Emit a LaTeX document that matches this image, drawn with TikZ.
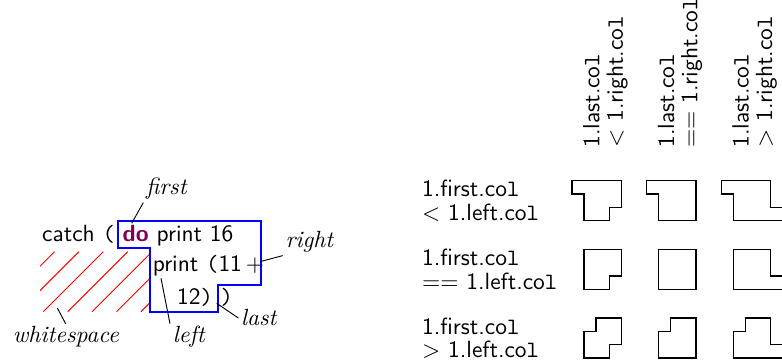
\documentclass[tikz,border=0pt]{standalone}
\usepackage{tikz}
\usetikzlibrary{
  arrows.meta,
  positioning,
  calc
}
\usepackage{xcolor}
\definecolor{keyword}{RGB}{127,0,85}
\definecolor{outline}{RGB}{0,0,255}
\newcommand{\ttl}{{\ttfamily l}}
\newcommand{\lpar}{{\ttfamily(}}
\newcommand{\rpar}{{\ttfamily)}}
% region outline: left, top, first offset, last offset
\newcommand{\regionbox}[4]{%
  \draw[regionline] ({#1+(#3)},#2) -- ({#1+37.3},#2) -- ({#1+37.3},{#2+26.7})
    -- ({#1+37.3+(#4)},{#2+26.7}) -- ({#1+37.3+(#4)},{#2+40}) -- (#1,{#2+40})
    -- (#1,{#2+13.3}) -- ({#1+(#3)},{#2+13.3}) -- cycle;}

\begin{document}
\begin{tikzpicture}[
  x=0.015cm, y=-0.015cm,
  every node/.style={font=\sffamily, inner sep=1pt},
  code/.style={anchor=base west, inner sep=0pt},
  note/.style={font=\rmfamily\itshape, anchor=base west},
  rowlabel/.style={anchor=north west, align=left, inner sep=0pt,
                   font=\sffamily\fontsize{10}{10}\selectfont},
  colhead/.style={anchor=north west, align=left, inner sep=0pt, rotate=90,
                  font=\sffamily\fontsize{10}{10}\selectfont},
  regionline/.style={draw=black, line width=0.5pt},
  outline/.style={draw=outline, line width=0.9pt},
  hatch/.style={draw=red, line width=0.4pt}
]
\useasboundingbox (0,0) rectangle (782,360);

% whitespace hatching
\begin{scope}
\clip (40,251.7) rectangle (150.3,311.7);
\foreach \k in {-2,...,4}
  \draw[hatch] ({43.3+24.4*\k},311.7) -- ({103.3+24.4*\k},251.7);
\end{scope}

% code lines
\node[code] (line1) at (41.7,241.7)
  {catch \lpar{} \textcolor{keyword}{\textbf{do}} print 16};
\node[code] (line2) at (152.3,271.7) {print \lpar11\,+};
\node[code] (line3) at (176.7,305) {12\rpar{} \rpar};

% node region
\draw[outline] (117.7,220.7) -- (261.3,220.7) -- (261.3,285) -- (217.7,285)
  -- (217.7,311.7) -- (150.3,311.7) -- (150.3,247.7) -- (117.7,247.7) -- cycle;

% annotations
\coordinate (firstpt) at (131.7,223.3);
\coordinate (rightpt) at (260,261.7);
\coordinate (lastpt) at (216.7,303.3);
\coordinate (leftpt) at (161,278.3);
\coordinate (wspt) at (57.3,308);

\node[note] (first) at (143.3,195) {first};
\node[note] (right) at (282.7,248) {right};
\node[note] (last) at (238.3,326) {last};
\node[note] (left) at (170,343) {left};
\node[note] (whitespace) at (10,343) {whitespace};

\draw (first.south west) -- (firstpt);
\draw (right.south west) -- (rightpt);
\draw (last.west) -- (lastpt);
\draw (left.north west) -- (leftpt);
\draw (whitespace.north) -- (wspt);

% column headers
\node[colhead] (col1) at (582.7,148) {1.last.co\ttl\\< 1.right.co\ttl};
\node[colhead] (col2) at (657.3,148) {1.last.co\ttl\\== 1.right.co\ttl};
\node[colhead] (col3) at (732,148) {1.last.co\ttl\\> 1.right.co\ttl};

% row headers
\node[rowlabel] (row1) at (421.7,180) {1.first.co\ttl\\< 1.left.co\ttl};
\node[rowlabel] (row2) at (421.7,248.7) {1.first.co\ttl\\== 1.left.co\ttl};
\node[rowlabel] (row3) at (421.7,317.3) {1.first.co\ttl\\> 1.left.co\ttl};

% region shapes
\foreach \f [count=\r from 0] in {-12,0,12}
  \foreach \l [count=\c from 0] in {-12,0,12}
    \regionbox{584+74.67*\c}{180.7+68.67*\r}{\f}{\l};

\end{tikzpicture}
\end{document}
